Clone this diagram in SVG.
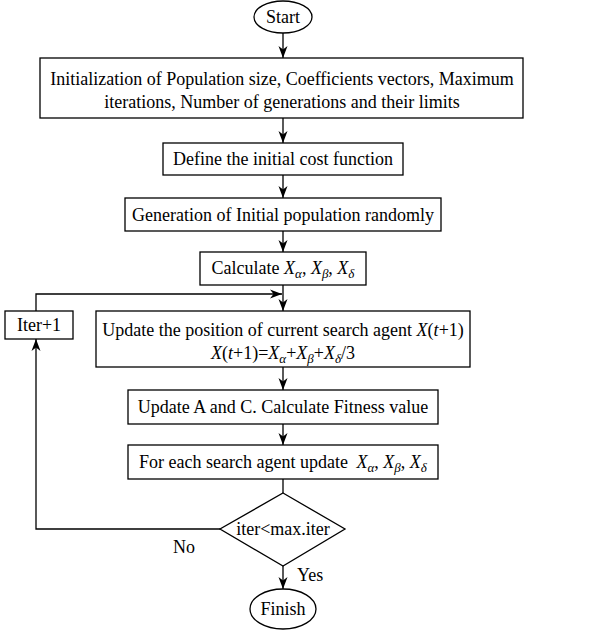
<svg xmlns="http://www.w3.org/2000/svg" width="610" height="630" viewBox="0 0 610 630">
<style>
text{font-family:"Liberation Serif","Times New Roman",serif;font-size:18px;fill:#000}
.c{text-anchor:middle}
.i{font-style:italic}
.s{font-style:italic;font-size:13px}
.b{fill:#fff;stroke:#000;stroke-width:1.3}
.l{fill:none;stroke:#000;stroke-width:1.3}
</style>
<defs>
<marker id="ah" viewBox="0 0 12 10" refX="12" refY="5" markerWidth="12" markerHeight="10" markerUnits="userSpaceOnUse" orient="auto">
<path d="M0,0.5 L12,5 L0,9.5 L3.5,5 Z" fill="#000"/>
</marker>
</defs>
<rect width="610" height="630" fill="#fff"/>
<g id="connectors">
<line class="l" x1="283" y1="33" x2="283" y2="58" marker-end="url(#ah)"/>
<line class="l" x1="283" y1="118" x2="283" y2="143" marker-end="url(#ah)"/>
<line class="l" x1="283" y1="175" x2="283" y2="198" marker-end="url(#ah)"/>
<line class="l" x1="283" y1="231" x2="283" y2="252" marker-end="url(#ah)"/>
<line class="l" x1="283" y1="285" x2="283" y2="311" marker-end="url(#ah)"/>
<polyline class="l" points="36,311 36,294 282,294" marker-end="url(#ah)"/>
<line class="l" x1="283" y1="367" x2="283" y2="390" marker-end="url(#ah)"/>
<line class="l" x1="283" y1="424" x2="283" y2="445" marker-end="url(#ah)"/>
<line class="l" x1="283" y1="479" x2="283" y2="493"/>
<polyline class="l" points="220,529 36,529 36,339" marker-end="url(#ah)"/>
<line class="l" x1="283" y1="566" x2="283" y2="589" marker-end="url(#ah)"/>
<text x="173" y="553">No</text>
<text x="297" y="581">Yes</text>
</g>
<g id="start">
<ellipse class="b" cx="283" cy="17" rx="29" ry="16"/>
<text class="c" x="283" y="23">Start</text>
</g>
<g id="init">
<rect class="b" x="40" y="58" width="483" height="60"/>
<text class="c" x="282" y="85">Initialization of Population size, Coefficients vectors, Maximum</text>
<text class="c" x="282" y="108">iterations, Number of generations and their limits</text>
</g>
<g id="define">
<rect class="b" x="163" y="143" width="240" height="32"/>
<text class="c" x="283" y="165">Define the initial cost function</text>
</g>
<g id="generate">
<rect class="b" x="125" y="198" width="316" height="33"/>
<text class="c" x="283" y="221">Generation of Initial population randomly</text>
</g>
<g id="calc">
<rect class="b" x="200" y="252" width="166" height="33"/>
<text class="c" x="283" y="274">Calculate <tspan class="i">X</tspan><tspan class="s" dy="4">α</tspan><tspan dy="-4">, </tspan><tspan class="i">X</tspan><tspan class="s" dy="4">β</tspan><tspan dy="-4">, </tspan><tspan class="i">X</tspan><tspan class="s" dy="4">δ</tspan></text>
</g>
<g id="iter">
<rect class="b" x="5" y="311" width="68" height="28"/>
<text class="c" x="39" y="331">Iter+1</text>
</g>
<g id="update">
<rect class="b" x="96" y="311" width="374" height="56"/>
<text class="c" x="283" y="336">Update the position of current search agent <tspan class="i">X</tspan>(<tspan class="i">t</tspan>+1)</text>
<text class="c" x="283" y="359"><tspan class="i">X</tspan>(<tspan class="i">t</tspan>+1)=<tspan class="i">X</tspan><tspan class="s" dy="4">α</tspan><tspan dy="-4">+</tspan><tspan class="i">X</tspan><tspan class="s" dy="4">β</tspan><tspan dy="-4">+</tspan><tspan class="i">X</tspan><tspan class="s" dy="4">δ</tspan><tspan dy="-4">/3</tspan></text>
</g>
<g id="fitness">
<rect class="b" x="128" y="390" width="310" height="34"/>
<text class="c" x="283" y="413">Update A and C. Calculate Fitness value</text>
</g>
<g id="foreach">
<rect class="b" x="128" y="445" width="310" height="34"/>
<text class="c" x="283" y="468">For each search agent update <tspan class="i" dx="4">X</tspan><tspan class="s" dy="4">α</tspan><tspan dy="-4">, </tspan><tspan class="i">X</tspan><tspan class="s" dy="4">β</tspan><tspan dy="-4">, </tspan><tspan class="i">X</tspan><tspan class="s" dy="4">δ</tspan></text>
</g>
<g id="decision">
<polygon class="b" points="283,493 345,529 283,566 220,529"/>
<text class="c" x="283" y="535">iter&lt;max.iter</text>
</g>
<g id="finish">
<ellipse class="b" cx="283" cy="609" rx="33" ry="20"/>
<text class="c" x="283" y="615">Finish</text>
</g>
</svg>
